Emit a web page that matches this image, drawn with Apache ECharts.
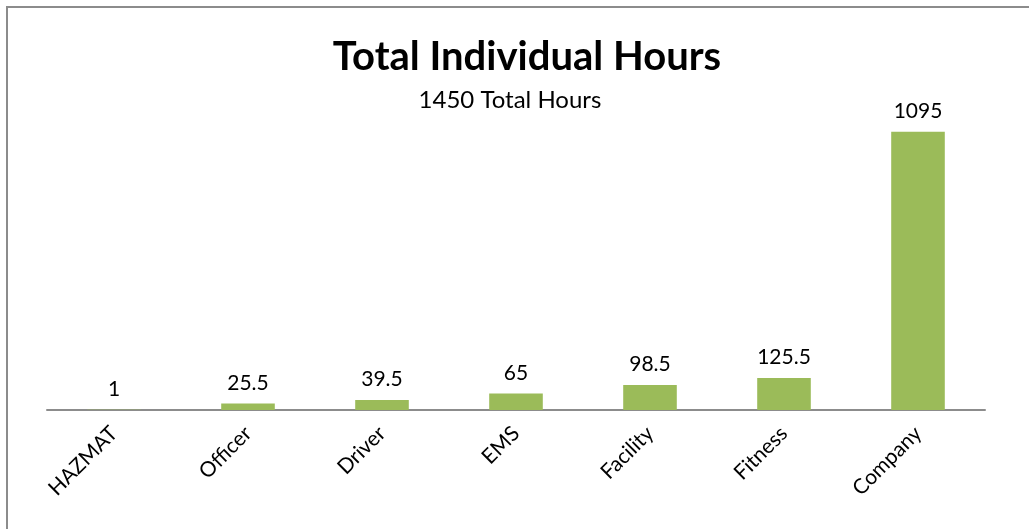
<!DOCTYPE html>
<html><head><meta charset="utf-8">
<script src="https://cdn.jsdelivr.net/npm/echarts@6/dist/echarts.min.js"></script>
<style>
html,body{margin:0;padding:0;background:#fff;overflow:hidden;}
#frame{position:absolute;left:6px;top:6px;width:1100px;height:600px;border:2px solid #8c8c8c;box-sizing:border-box;}
#chart{position:absolute;left:0;top:0;width:1029px;height:529px;}
</style></head>
<body>
<div id="frame"></div>
<div id="chart"></div>
<script>
const categories = ["HAZMAT","Officer","Driver","EMS","Facility","Fitness","Company"];
const hours = [1,25.5,39.5,65,98.5,125.5,1095];
const titleText = "Total Individual Hours";
const subtitleText = "1450 Total Hours";

const F = 'Lato';
const chart = echarts.init(document.getElementById('chart'));
chart.setOption({
  animation:false,
  title:[
    {text:titleText,left:522,top:32,textAlign:'center',textStyle:{fontFamily:F,fontWeight:'bold',fontSize:40,color:'#000'}},
    {text:subtitleText,left:505,top:83,textAlign:'center',textStyle:{fontFamily:F,fontWeight:'normal',fontSize:24,color:'#000'}}
  ],
  grid:{left:47,right:44,top:105,bottom:119,containLabel:false},
  xAxis:{type:'category',data:categories,
    axisLine:{lineStyle:{color:'#8c8c8c',width:2}},
    axisTick:{show:false},
    axisLabel:{rotate:45,interval:0,fontFamily:F,fontSize:21,color:'#000',margin:20}
  },
  yAxis:{type:'value',min:0,max:1200,show:false,splitLine:{show:false}},
  series:[{type:'bar',data:hours,barWidth:'40%',itemStyle:{color:'#9BBB59'},
    label:{show:true,position:'top',distance:10,fontFamily:F,fontSize:21,color:'#000'}}]
});
</script>
</body></html>
